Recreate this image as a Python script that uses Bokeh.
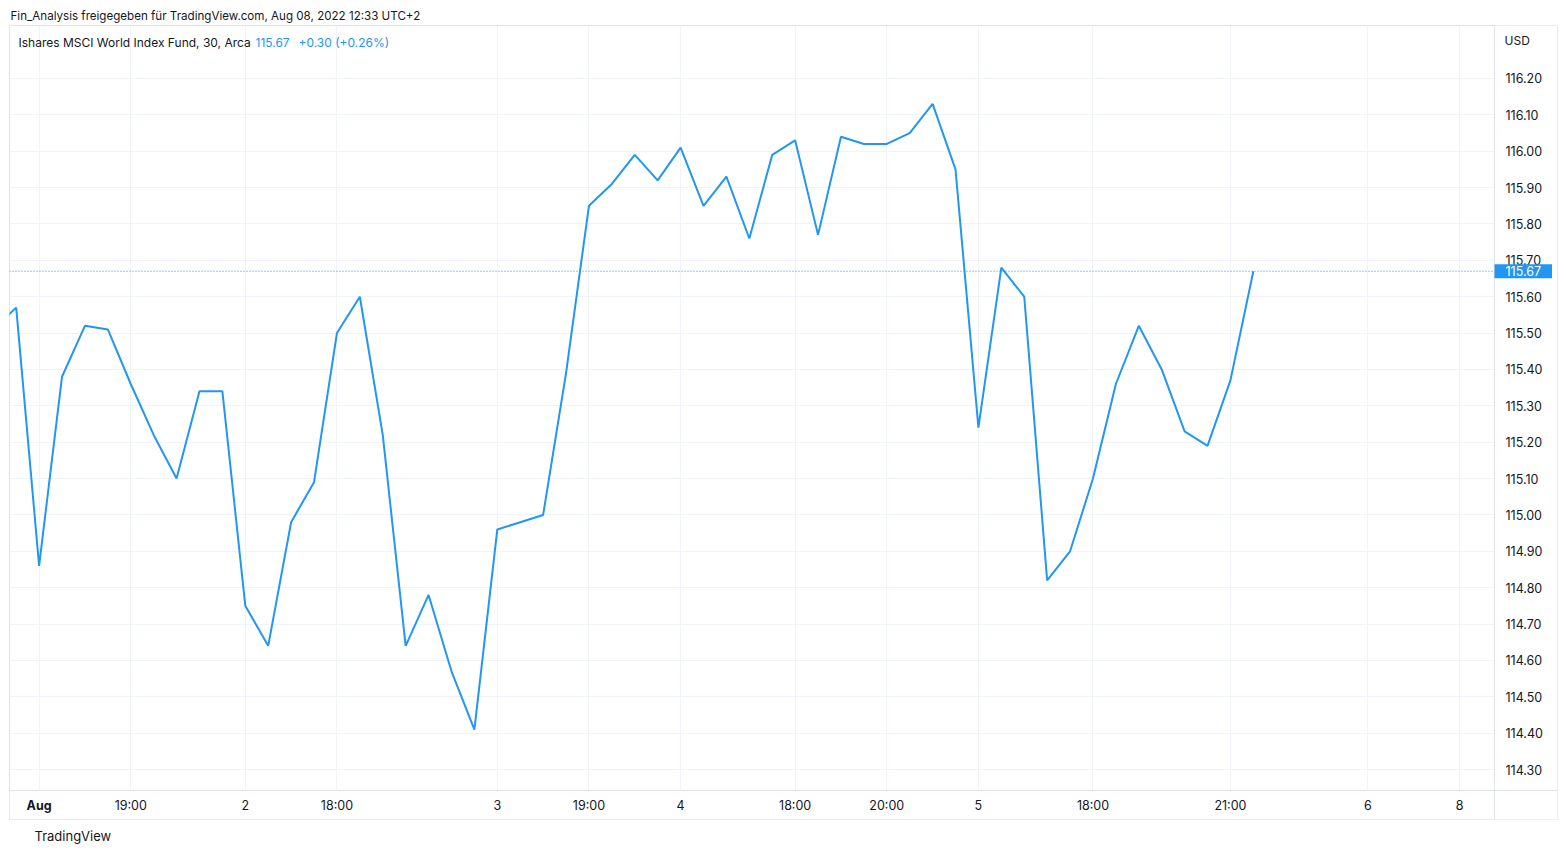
from bokeh.plotting import figure
from bokeh.models import (Range1d, FixedTicker, Label, Span, BoxAnnotation, Title,
                          ColumnDataSource, PrintfTickFormatter)
from bokeh.embed import file_html
from bokeh.resources import INLINE

# ---- data (30-minute bars) ----
bar_index = list(range(-1, 55))
close = [115.51, 115.57, 114.86, 115.38, 115.52, 115.51, 115.36, 115.22, 115.10, 115.34,
         115.34, 114.75, 114.64, 114.98, 115.09, 115.50, 115.60, 115.22, 114.64, 114.78,
         114.57, 114.41, 114.96, 114.98, 115.00, 115.39, 115.85, 115.91, 115.99, 115.92,
         116.01, 115.85, 115.93, 115.76, 115.99, 116.03, 115.77, 116.04, 116.02, 116.02,
         116.05, 116.13, 115.95, 115.24, 115.68, 115.60, 114.82, 114.90, 115.10, 115.36,
         115.52, 115.40, 115.23, 115.19, 115.37, 115.67]
x_tick_pos = [1, 5, 10, 14, 21, 25, 29, 34, 38, 42, 47, 53, 59, 63]
x_tick_labels = ["Aug", "19:00", "2", "18:00", "3", "19:00", "4", "18:00", "20:00",
                 "5", "18:00", "21:00", "6", "8"]
y_tick_values = [114.30, 114.40, 114.50, 114.60, 114.70, 114.80, 114.90, 115.00, 115.10,
                 115.20, 115.30, 115.40, 115.50, 115.60, 115.70, 115.80, 115.90, 116.00,
                 116.10, 116.20]
last_price = 115.67
header = "Fin_Analysis freigegeben für TradingView.com, Aug 08, 2022 12:33 UTC+2"
legend_name = "Ishares MSCI World Index Fund, 30, Arca"
legend_change = "+0.30 (+0.26%)"
currency = "USD"
footer = "TradingView"

FONT = "Inter"
DARK = "#131722"
BLUE = "#2196f3"
GRID = "#f0f3fa"
BORDER = "#e0e3eb"

# view window (bar index / price) and where the price & time scales sit
X_VIEW = (-0.2924, 67.276)
Y_VIEW = (114.1626, 116.3457)
PRICE_SCALE_AT = 64.526
TIME_SCALE_AT = 114.2424

src = ColumnDataSource(dict(x=bar_index, y=close))

p = figure(width=1560, height=850, output_backend="svg", toolbar_location=None,
           x_range=Range1d(*X_VIEW), y_range=Range1d(*Y_VIEW),
           y_axis_location="right", title=header,
           min_border_left=9, min_border_right=3, min_border_top=25, min_border_bottom=31)
p.background_fill_color = "white"
p.border_fill_color = "white"
p.outline_line_color = BORDER

p.title.align = "left"
p.title.offset = 1
p.title.standoff = 5
p.title.text_font = FONT
p.title.text_font_size = "11.6px"
p.title.text_font_style = "normal"
p.title.text_color = DARK

p.add_layout(Title(text=footer, align="left", offset=25, standoff=12, text_font=FONT,
                   text_font_size="13px", text_font_style="normal", text_color=DARK),
             "below")

# last price dotted line (under the scale panels)
p.add_layout(Span(location=last_price, dimension="width", line_color=BLUE,
                  line_width=1, line_dash="1 2", level="underlay"))

# white scale panels hide the grid there
p.add_layout(BoxAnnotation(left=PRICE_SCALE_AT, fill_color="white", fill_alpha=1,
                           line_alpha=0, level="underlay"))
p.add_layout(BoxAnnotation(top=TIME_SCALE_AT, fill_color="white", fill_alpha=1,
                           line_alpha=0, level="underlay"))

p.line("x", "y", source=src, line_color=BLUE, line_width=2)

# axes
ya = p.yaxis[0]
ya.fixed_location = PRICE_SCALE_AT
ya.ticker = FixedTicker(ticks=y_tick_values)
ya.formatter = PrintfTickFormatter(format="%.2f")
ya.major_tick_line_color = None
ya.minor_tick_line_color = None
ya.major_tick_out = 0
ya.major_tick_in = 0
ya.axis_line_color = BORDER
ya.major_label_standoff = 11
ya.major_label_text_font = FONT
ya.major_label_text_font_size = "12.5px"
ya.major_label_text_color = DARK

xa = p.xaxis[0]
xa.fixed_location = TIME_SCALE_AT
xa.ticker = FixedTicker(ticks=x_tick_pos)
xa.major_label_overrides = {t: ("" if l == "Aug" else l) for t, l in zip(x_tick_pos, x_tick_labels)}
xa.major_tick_line_color = None
xa.minor_tick_line_color = None
xa.major_tick_out = 0
xa.major_tick_in = 0
xa.axis_line_color = BORDER
xa.major_label_standoff = 8
xa.major_label_text_font = FONT
xa.major_label_text_font_size = "12.5px"
xa.major_label_text_color = DARK

p.xgrid.ticker = FixedTicker(ticks=x_tick_pos)
p.xgrid.grid_line_color = GRID
p.ygrid.ticker = FixedTicker(ticks=y_tick_values)
p.ygrid.grid_line_color = GRID

# price tag on the price scale
p.add_layout(Label(x=PRICE_SCALE_AT, y=last_price, text=f"{last_price:.2f}",
                   text_color="white", text_font=FONT, text_font_size="12.5px",
                   text_baseline="middle", background_fill_color=BLUE, padding=(11, 2)))

def lab(x, y, text, color=DARK, bold=False, xu="screen", yu="screen", align="left",
        size="12px"):
    p.add_layout(Label(x=x, y=y, x_units=xu, y_units=yu, text=text,
                       text_color=color, text_font=FONT, text_font_size=size,
                       text_font_style="bold" if bold else "normal",
                       text_align=align, text_baseline="middle"))

lab(9, 777, legend_name)
lab(246, 777, f"{last_price:.2f}", color=BLUE)
lab(289, 777, legend_change, color=BLUE)
lab(1495, 779, currency, size="12px")
lab(x_tick_pos[0], 14, x_tick_labels[0], bold=True, xu="data", align="center",
    size="12.5px")

open("out.html", "w").write(file_html(p, INLINE))
